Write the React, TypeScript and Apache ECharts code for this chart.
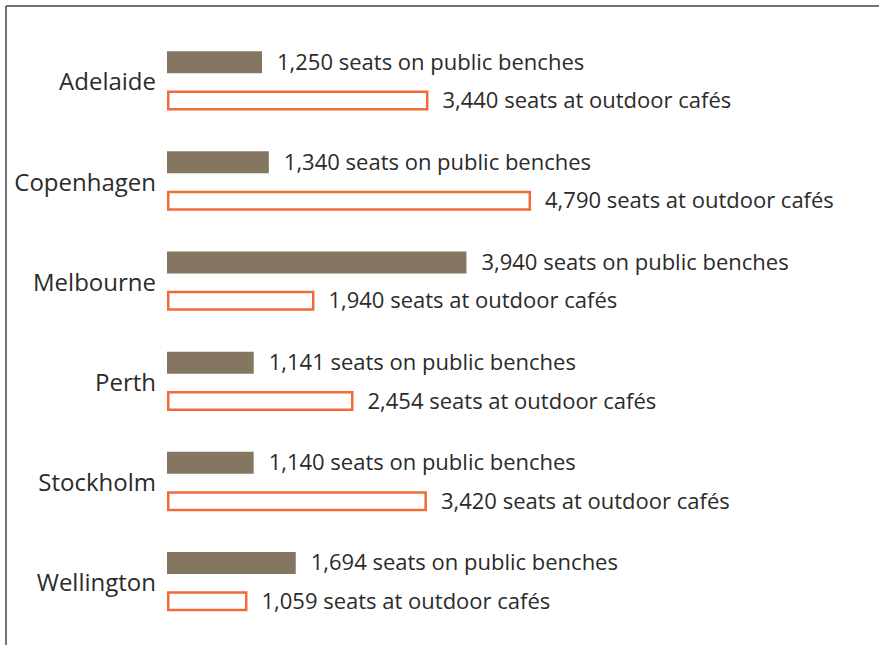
import React, { useEffect, useRef } from "react";
import * as echarts from "echarts";

const cities = ["Adelaide", "Copenhagen", "Melbourne", "Perth", "Stockholm", "Wellington"];
const benchSeats = [1250, 1340, 3940, 1141, 1140, 1694];
const cafeSeats = [3440, 4790, 1940, 2454, 3420, 1059];
const benchSuffix = "seats on public benches";
const cafeSuffix = "seats at outdoor cafés";

const FONT = "'Open Sans', 'Noto Sans', sans-serif";

export default function App() {
  const ref = useRef<HTMLDivElement>(null);
  useEffect(() => {
    if (!ref.current) return;
    const chart = echarts.init(ref.current, null, { renderer: "svg" });
    const fmt = (v: number) => v.toLocaleString("en-US");
    chart.setOption({
      animation: false,
      backgroundColor: "#ffffff",
      textStyle: { fontFamily: FONT },
      grid: { left: 167, right: 332, top: 30.8, bottom: 13.3, containLabel: false },
      xAxis: {
        type: "value",
        min: 0,
        max: 5000,
        show: false,
      },
      yAxis: {
        type: "category",
        data: cities,
        inverse: true,
        axisLine: { show: false },
        axisTick: { show: false },
        splitLine: { show: false },
        axisLabel: {
          margin: 11,
          fontSize: 24,
          color: "#2b2b2b",
          fontFamily: FONT,
          padding: [0, 0, 4, 0],
        },
      },
      series: [
        {
          name: "Public benches",
          type: "bar",
          data: benchSeats,
          barWidth: 22,
          barGap: "79%",
          itemStyle: { color: "#857662" },
          label: {
            show: true,
            position: "right",
            distance: 15,
            offset: [0, -1.5],
            fontSize: 22,
            color: "#2b2b2b",
            fontFamily: FONT,
            formatter: (p: any) => `${fmt(p.value)} ${benchSuffix}`,
          },
        },
        {
          name: "Outdoor cafés",
          type: "bar",
          data: cafeSeats,
          barWidth: 20,
          itemStyle: { color: "#ffffff", borderColor: "#F26B36", borderWidth: 2.5 },
          label: {
            show: true,
            position: "right",
            distance: 14,
            offset: [0, -1.5],
            fontSize: 22,
            color: "#2b2b2b",
            fontFamily: FONT,
            formatter: (p: any) => `${fmt(p.value)} ${cafeSuffix}`,
          },
        },
      ],
      graphic: [
        {
          type: "line",
          shape: { x1: 6, y1: 6, x2: 879, y2: 6 },
          style: { stroke: "#444444", lineWidth: 1.5 },
        },
        {
          type: "line",
          shape: { x1: 6, y1: 6, x2: 6, y2: 645 },
          style: { stroke: "#444444", lineWidth: 1.5 },
        },
      ],
    });
    return () => chart.dispose();
  }, []);
  return (
    <div
      ref={ref}
      style={{ position: "fixed", left: 0, top: 0, width: 879, height: 645 }}
    />
  );
}
